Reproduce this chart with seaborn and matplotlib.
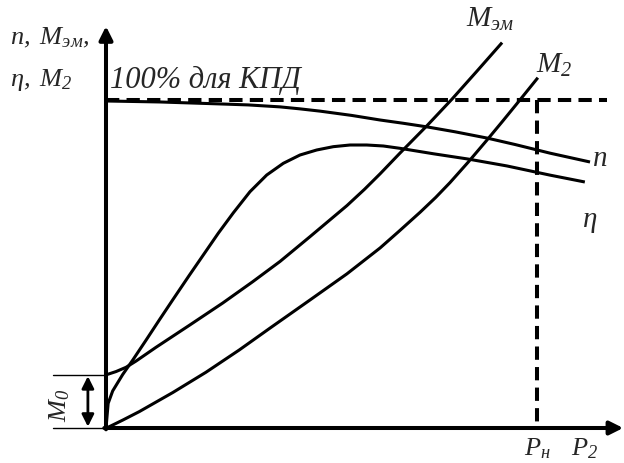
import matplotlib
matplotlib.use("Agg")
import matplotlib.pyplot as plt
import seaborn as sns
import pandas as pd

sns.set_style("white")
plt.rcParams["font.family"] = ["Liberation Serif", "DejaVu Serif"]
plt.rcParams["font.style"] = "italic"
plt.rcParams["mathtext.fontset"] = "custom"
plt.rcParams["mathtext.it"] = "Liberation Serif:italic"
plt.rcParams["mathtext.rm"] = "Liberation Serif:italic"
plt.rcParams["mathtext.bf"] = "Liberation Serif:bold:italic"

# Relative output power P2 / Pн for each characteristic
p_n = [0.0, 0.125, 0.265, 0.33, 0.404, 0.45, 0.497, 0.57, 0.636, 0.69,
       0.745, 0.81, 0.884, 0.95, 1.030, 1.123]
n_speed = [0.997, 0.994, 0.988, 0.985, 0.979, 0.973, 0.966, 0.953, 0.939,
           0.929, 0.918, 0.903, 0.884, 0.864, 0.838, 0.811]

p_eta = [0.0, 0.005, 0.0155, 0.0387, 0.062, 0.093, 0.124, 0.155, 0.193,
         0.2606, 0.2954, 0.3341, 0.3729, 0.4114, 0.4501, 0.4889, 0.5274,
         0.5661, 0.6049, 0.6434, 0.6821, 0.76, 0.840, 0.93, 1.030, 1.111]
eta = [0.0, 0.075, 0.113, 0.163, 0.207, 0.268, 0.330, 0.391, 0.465,
       0.594, 0.656, 0.7205, 0.7713, 0.807, 0.8323, 0.8476, 0.8577,
       0.8628, 0.8628, 0.8598, 0.8527, 0.836, 0.820, 0.799, 0.771, 0.750]

p_mem = [0.0, 0.0232, 0.0464, 0.0696, 0.116, 0.1933, 0.2708, 0.3404, 0.404,
         0.473, 0.559, 0.6, 0.636, 0.682, 0.745, 0.803, 0.86, 0.919]
m_em = [0.162, 0.172, 0.185, 0.204, 0.246, 0.313, 0.381, 0.446, 0.508,
        0.583, 0.678, 0.728, 0.775, 0.838, 0.922, 1.003, 1.087, 1.175]

p_m2 = [0.0, 0.0077, 0.0387, 0.0773, 0.1548, 0.232, 0.3093, 0.381, 0.473,
        0.559, 0.636, 0.68, 0.729, 0.765, 0.798, 0.84, 0.884, 0.92, 0.956,
        1.002]
m_2 = [0.0, 0.004, 0.024, 0.050, 0.108, 0.170, 0.238, 0.305, 0.390,
       0.470, 0.549, 0.600, 0.658, 0.703, 0.748, 0.810, 0.878, 0.935, 0.993,
       1.068]

eta_full = 1.0   # 100 % efficiency level
p_rated = 1.0    # rated power Pн
m_0 = m_em[0]    # no-load torque M0

curves = pd.concat([
    pd.DataFrame({"P2": p_n, "value": n_speed, "curve": "n"}),
    pd.DataFrame({"P2": p_eta, "value": eta, "curve": "eta"}),
    pd.DataFrame({"P2": p_mem, "value": m_em, "curve": "Mem"}),
    pd.DataFrame({"P2": p_m2, "value": m_2, "curve": "M2"}),
])

fig = plt.figure(figsize=(6.24, 4.63), dpi=100)
ax = fig.add_axes([0, 0, 1, 1])
ax.set_xlim(-106 / 431, 518 / 431)
ax.set_ylim(-35 / 328, 428 / 328)
ax.axis("off")

lw_curve = 2.2
lw_axis = 2.9

for name, grp in curves.groupby("curve", sort=False):
    sns.lineplot(data=grp, x="P2", y="value", ax=ax, color="black",
                 lw=lw_curve, estimator=None, legend=False,
                 solid_capstyle="butt", solid_joinstyle="round")

# dashed guides: 100 % efficiency and rated power
ax.plot([0, 1.162], [eta_full, eta_full], color="black", lw=lw_axis,
        dashes=(3.3, 1.8))
ax.plot([p_rated, p_rated], [eta_full, 0], color="black", lw=lw_axis,
        dashes=(3.3, 1.8))

# coordinate axes with arrows
arrow = dict(arrowstyle="-|>", lw=lw_axis, color="black", mutation_scale=20,
             shrinkA=0, shrinkB=0)
ax.annotate("", xy=(0, 1.225), xytext=(0, -0.004), arrowprops=arrow,
            annotation_clip=False)
ax.annotate("", xy=(1.2, 0), xytext=(-0.004, 0), arrowprops=arrow,
            annotation_clip=False)

# no-load torque M0
ax.plot([-0.123, 0], [m_0, m_0], color="black", lw=1.0)
ax.plot([-0.123, 0], [0, 0], color="black", lw=1.0)
ax.annotate("", xy=(-0.042, m_0 - 0.004), xytext=(-0.042, 0.004),
            arrowprops=dict(arrowstyle="<|-|>", lw=2.0, color="black",
                            mutation_scale=18, shrinkA=0, shrinkB=0),
            annotation_clip=False)
ax.text(-0.107, 0.068, r"$M_0$", fontsize=19, rotation=90,
        ha="center", va="center")

# labels
ax.text(0.009, 1.061, "100% для КПД", fontsize=22, ha="left", va="center")
ax.text(-0.223, 1.189, r"$n,\ M_{эм},$", fontsize=19, ha="left", va="center")
ax.text(-0.223, 1.061, r"$\eta,\ M_2$", fontsize=19, ha="left", va="center")
ax.text(0.89, 1.247, r"$M_{эм}$", fontsize=21, ha="center", va="center")
ax.text(1.04, 1.106, r"$M_2$", fontsize=21, ha="center", va="center")
ax.text(1.146, 0.82, r"$n$", fontsize=21, ha="center", va="center")
ax.text(1.123, 0.628, r"$\eta$", fontsize=21, ha="center", va="center")
ax.text(1.0, -0.062, r"$P_н$", fontsize=19, ha="center", va="center")
ax.text(1.111, -0.062, r"$P_2$", fontsize=19, ha="center", va="center")

fig.savefig("out.png", dpi=100)
